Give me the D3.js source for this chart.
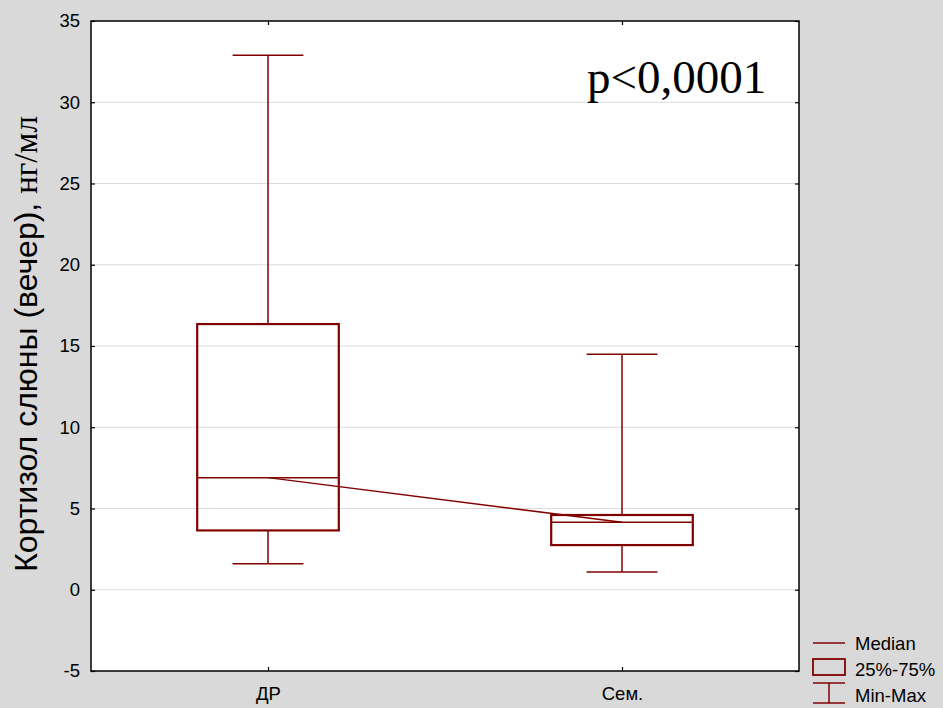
<!DOCTYPE html>
<html>
<head>
<meta charset="utf-8">
<script src="https://cdn.jsdelivr.net/npm/d3@7"></script>
<style>
  body { margin: 0; background: #d9d9d9; }
  svg { display: block; }
</style>
</head>
<body>
<svg></svg>
<script>
// Data
const categories = ["ДР", "Сем."];
const minVals = [1.6, 1.1];
const q1Vals = [3.65, 2.75];
const medians = [6.9, 4.15];
const q3Vals = [16.35, 4.6];
const maxVals = [32.9, 14.5];
const yTicks = [-5, 0, 5, 10, 15, 20, 25, 30, 35];
const legendLabels = ["Median", "25%-75%", "Min-Max"];

const width = 943, height = 708;
const plot = { left: 91, right: 799, top: 21, bottom: 671 };
const red = "#800000";
const sans = "Arial, 'Liberation Sans', sans-serif";
const serif = "'Liberation Serif', 'Times New Roman', serif";

const svg = d3.select("svg")
    .attr("width", width)
    .attr("height", height);

svg.append("rect")
    .attr("width", width).attr("height", height)
    .attr("fill", "#d9d9d9");

// Plot background
svg.append("rect")
    .attr("x", plot.left).attr("y", plot.top)
    .attr("width", plot.right - plot.left)
    .attr("height", plot.bottom - plot.top)
    .attr("fill", "white");

const x = d3.scalePoint()
    .domain(categories)
    .range([plot.left, plot.right])
    .padding(0.5);

const y = d3.scaleLinear()
    .domain([-5, 35])
    .range([plot.bottom, plot.top]);

// Gridlines
svg.append("g")
    .selectAll("line")
    .data(yTicks.slice(1, -1))
    .join("line")
    .attr("x1", plot.left).attr("x2", plot.right)
    .attr("y1", d => y(d)).attr("y2", d => y(d))
    .attr("stroke", "#dcdcdc")
    .attr("stroke-width", 1);

// Axes with inner ticks
const axisStyle = g => {
    g.select(".domain").remove();
    g.selectAll(".tick line").attr("stroke", "black").attr("stroke-width", 1.2);
    g.selectAll(".tick text")
        .attr("font-family", sans)
        .attr("font-size", 18.5)
        .attr("fill", "black");
};

svg.append("g")
    .attr("transform", `translate(${plot.left},0)`)
    .call(d3.axisLeft(y).tickValues(yTicks).tickSizeInner(-4).tickSizeOuter(0)
        .tickPadding(11).tickFormat(d => String(d)))
    .call(axisStyle);

svg.append("g")
    .attr("transform", `translate(${plot.right},0)`)
    .call(d3.axisRight(y).tickValues(yTicks).tickSizeInner(-4).tickSizeOuter(0).tickFormat(""))
    .call(axisStyle);

svg.append("g")
    .attr("transform", `translate(0,${plot.bottom})`)
    .call(d3.axisBottom(x).tickSizeInner(-4).tickSizeOuter(0).tickPadding(16))
    .call(axisStyle);

svg.append("g")
    .attr("transform", `translate(0,${plot.top})`)
    .call(d3.axisTop(x).tickSizeInner(-4).tickSizeOuter(0).tickFormat(""))
    .call(axisStyle);

// Frame
svg.append("rect")
    .attr("x", plot.left).attr("y", plot.top)
    .attr("width", plot.right - plot.left)
    .attr("height", plot.bottom - plot.top)
    .attr("fill", "none")
    .attr("stroke", "black")
    .attr("stroke-width", 1.5);

// Box plots
const boxW = x.step() * 0.4;
const capW = boxW / 2;
const boxes = categories.map((c, i) => ({
    c, min: minVals[i], q1: q1Vals[i], med: medians[i], q3: q3Vals[i], max: maxVals[i]
}));

const box = svg.append("g").selectAll("g").data(boxes).join("g");

// whiskers
box.append("line")
    .attr("x1", d => x(d.c)).attr("x2", d => x(d.c))
    .attr("y1", d => y(d.max)).attr("y2", d => y(d.q3))
    .attr("stroke", red).attr("stroke-width", 1.5);
box.append("line")
    .attr("x1", d => x(d.c)).attr("x2", d => x(d.c))
    .attr("y1", d => y(d.q1)).attr("y2", d => y(d.min))
    .attr("stroke", red).attr("stroke-width", 1.5);
box.append("line")
    .attr("x1", d => x(d.c) - capW / 2).attr("x2", d => x(d.c) + capW / 2)
    .attr("y1", d => y(d.max)).attr("y2", d => y(d.max))
    .attr("stroke", red).attr("stroke-width", 1.5);
box.append("line")
    .attr("x1", d => x(d.c) - capW / 2).attr("x2", d => x(d.c) + capW / 2)
    .attr("y1", d => y(d.min)).attr("y2", d => y(d.min))
    .attr("stroke", red).attr("stroke-width", 1.5);

// box
box.append("rect")
    .attr("x", d => x(d.c) - boxW / 2)
    .attr("y", d => y(d.q3))
    .attr("width", boxW)
    .attr("height", d => y(d.q1) - y(d.q3))
    .attr("fill", "none")
    .attr("stroke", red).attr("stroke-width", 2.2);

// median
box.append("line")
    .attr("x1", d => x(d.c) - boxW / 2).attr("x2", d => x(d.c) + boxW / 2)
    .attr("y1", d => y(d.med)).attr("y2", d => y(d.med))
    .attr("stroke", red).attr("stroke-width", 1.5);

// line connecting medians
svg.append("path")
    .datum(boxes)
    .attr("d", d3.line().x(d => x(d.c)).y(d => y(d.med)))
    .attr("fill", "none")
    .attr("stroke", red).attr("stroke-width", 1.5);

// p-value
svg.append("text")
    .attr("x", 587).attr("y", 93)
    .attr("font-family", serif)
    .attr("font-size", 47)
    .attr("fill", "black")
    .text("p<0,0001");

// Y axis label
const yl = svg.append("text")
    .attr("transform", `translate(37,344) rotate(-90)`)
    .attr("text-anchor", "middle")
    .attr("fill", "black");
yl.append("tspan")
    .attr("font-family", sans)
    .attr("font-size", 32)
    .text("Кортизол слюны (вечер), ");
yl.append("tspan")
    .attr("font-family", serif)
    .attr("font-size", 33)
    .text("нг/мл");

// Legend
const lg = svg.append("g")
    .attr("font-family", sans)
    .attr("font-size", 18.5);
const lx0 = 813, lx1 = 845;
lg.append("line")
    .attr("x1", lx0).attr("x2", lx1).attr("y1", 643).attr("y2", 643)
    .attr("stroke", red).attr("stroke-width", 1.5);
lg.append("rect")
    .attr("x", lx0).attr("y", 659).attr("width", lx1 - lx0).attr("height", 16)
    .attr("fill", "none").attr("stroke", red).attr("stroke-width", 1.8);
lg.append("line")
    .attr("x1", lx0).attr("x2", lx1).attr("y1", 683).attr("y2", 683)
    .attr("stroke", red).attr("stroke-width", 1.5);
lg.append("line")
    .attr("x1", lx0).attr("x2", lx1).attr("y1", 703).attr("y2", 703)
    .attr("stroke", red).attr("stroke-width", 1.5);
lg.append("line")
    .attr("x1", (lx0 + lx1) / 2).attr("x2", (lx0 + lx1) / 2).attr("y1", 683).attr("y2", 703)
    .attr("stroke", red).attr("stroke-width", 1.5);
lg.selectAll("text.leg")
    .data(legendLabels)
    .join("text")
    .attr("class", "leg")
    .attr("x", 855)
    .attr("y", (d, i) => 650 + i * 26)
    .attr("fill", "black")
    .text(d => d);
</script>
</body>
</html>
